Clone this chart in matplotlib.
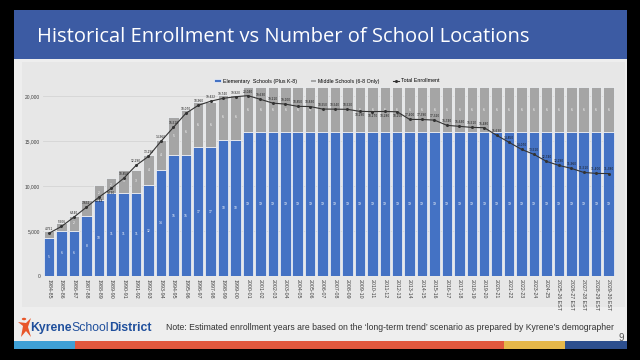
import matplotlib.pyplot as plt
from matplotlib.patches import Rectangle, Circle, Polygon

# school years on the x axis
years = ['1984-85', '1985-86', '1986-87', '1987-88', '1988-89', '1989-90', '1990-91', '1991-92',
         '1992-93', '1993-94', '1994-95', '1995-96', '1996-97', '1997-98', '1998-99', '1999-00',
         '2000-01', '2001-02', '2002-03', '2003-04', '2004-05', '2005-06', '2006-07', '2007-08',
         '2008-09', '2009-10', '2010-11', '2011-12', '2012-13', '2013-14', '2014-15', '2015-16',
         '2016-17', '2017-18', '2018-19', '2019-20', '2020-21', '2021-22', '2022-23', '2023-24',
         '2024-25', '2025-26 EST', '2026-27 EST', '2027-28 EST', '2028-29 EST', '2029-30 EST']

elementary = [5, 6, 6, 8, 10, 11, 11, 11, 12, 14, 16, 16, 17, 17, 18, 18,
              19, 19, 19, 19, 19, 19, 19, 19, 19, 19, 19, 19, 19, 19, 19,
              19, 19, 19, 19, 19, 19, 19, 19, 19, 19, 19, 19, 19, 19, 19]
middle = [1, 1, 2, 2, 2, 2, 3, 3, 4, 4, 5, 6, 6, 6, 6, 6,
          6, 6, 6, 6, 6, 6, 6, 6, 6, 6, 6, 6, 6, 6, 6,
          6, 6, 6, 6, 6, 6, 6, 6, 6, 6, 6, 6, 6, 6, 6]
enrollment = [4751, 5506, 6540, 7632, 8748, 9730, 10850, 12290, 13290, 14960, 16510, 18070,
              18960, 19422, 19740, 19920, 20040, 19630, 19210, 19100, 18850, 18830, 18550, 18540,
              18520, 18290, 18270, 18280, 18250, 17400, 17390, 17320, 16740, 16630, 16510, 16480,
              15630, 14850, 14070, 13510, 12740, 12290, 11960, 11510, 11400, 11380]

W, H = 640, 360
ENR_MAX = 21000
SCH_MAX = 25
fig = plt.figure(figsize=(6.4, 3.6), dpi=100)
fig.patch.set_facecolor('black')


def box(x0, y0, x1, y1, color):
    # rectangle in pixel coords measured from the top-left corner
    fig.add_artist(Rectangle((x0 / W, 1 - y1 / H), (x1 - x0) / W, (y1 - y0) / H,
                             transform=fig.transFigure, facecolor=color, edgecolor='none', zorder=0))


# slide frame
box(14, 10, 627, 349, '#eeeeee')
box(14, 10, 627, 59, '#3c5ba3')
box(22, 62, 625, 307, '#e7e7e7')
box(14, 341, 75, 349, '#3fa0d6')
box(75, 341, 504, 349, '#e2583e')
box(504, 341, 565, 349, '#e6b84a')
box(565, 341, 627, 349, '#2d4f8e')

fig.text(37 / W, 1 - 37 / H, 'Historical Enrollment vs Number of School Locations',
         family='Open Sans', fontsize=14.5, color='white', va='center', ha='left')

# chart
x = list(range(len(years)))
ax = fig.add_axes([42.8 / W, 1 - 276 / H, 572 / W, 189 / H])
ax.set_facecolor('none')
ax.set_xlim(-0.5, len(years) - 0.5)
ax.set_ylim(0, ENR_MAX)
ax.set_yticks([0, 5000, 10000, 15000, 20000])
ax.set_yticklabels(['0', '5,000', '10,000', '15,000', '20,000'], family='Liberation Sans',
                   fontsize=3.5, color='#404040')
ax.grid(axis='y', color='#d4d4d4', linewidth=0.6)
ax.set_axisbelow(True)
ax.set_xticks(x)
ax.set_xticklabels(years, rotation=-90, family='Liberation Sans', fontsize=3.8, color='#404040')
ax.tick_params(length=0, pad=2)
for s in ax.spines.values():
    s.set_visible(False)

axb = ax.twinx()
axb.set_ylim(0, SCH_MAX)
axb.set_axis_off()
b1 = axb.bar(x, elementary, width=0.84, color='#4472c4', edgecolor='#f4f6fa', linewidth=0.5,
             label='Elementary  Schools (Plus K-8)')
b2 = axb.bar(x, middle, bottom=elementary, width=0.84, color='#a5a5a5', edgecolor='#f4f6fa',
             linewidth=0.5, label='Middle Schools (6-8 Only)')
axb.bar_label(b1, label_type='center', fontsize=2.2, color='white')
axb.bar_label(b2, label_type='center', fontsize=2.2, color='white')

axl = ax.twinx()
axl.set_ylim(0, ENR_MAX)
axl.set_axis_off()
ln, = axl.plot(x, enrollment, color='#333333', linewidth=0.8, marker='o', markersize=1.2,
               label='Total Enrollment')
for xi, v, e, m in zip(x, enrollment, elementary, middle):
    # gray-segment label centre expressed on the enrollment scale
    c = (e + m / 2) * ENR_MAX / SCH_MAX
    below = c - 800 < v < c - 30
    axl.annotate(f'{v:,}', (xi, v), xytext=(0, -1.5 if below else 1.5),
                 textcoords='offset points', ha='center', va='top' if below else 'bottom',
                 fontsize=2.1, color='#1a1a1a')

fig.legend(handles=[b1, b2, ln], loc='center', bbox_to_anchor=(327 / W, 1 - 81 / H), ncol=3,
           frameon=False, prop={'family': 'Liberation Sans', 'size': 3.8}, handlelength=1.2,
           handleheight=0.6, columnspacing=2.5, handletextpad=0.4)

# footer
fig.add_artist(Circle((24 / W, 1 - 319 / H), 2.2 / W, transform=fig.transFigure,
                      facecolor='#e8562a', edgecolor='none'))
fig.add_artist(Polygon([(18 / W, 1 - 322 / H), (26 / W, 1 - 323 / H), (31 / W, 1 - 318 / H),
                        (28 / W, 1 - 327 / H), (31 / W, 1 - 337 / H), (26 / W, 1 - 331 / H),
                        (21 / W, 1 - 337 / H), (23 / W, 1 - 326 / H)],
                       transform=fig.transFigure, facecolor='#e8562a', edgecolor='none'))
t = fig.text(30 / W, 1 - 328 / H, 'Kyrene', family='Liberation Sans', fontsize=8.8,
             fontweight='bold', color='#1f4f9c', va='center')
fig.canvas.draw()
bb = t.get_window_extent()
t2 = fig.text(bb.x1 / W, 1 - 328 / H, 'School', family='Liberation Sans', fontsize=8.8,
              color='#1f4f9c', va='center')
bb = t2.get_window_extent()
fig.text(bb.x1 / W, 1 - 328 / H, 'District', family='Liberation Sans', fontsize=8.8,
         fontweight='bold', color='#1f4f9c', va='center')

fig.text(166 / W, 1 - 328 / H,
         'Note: Estimated enrollment years are based on the \u2018long-term trend\u2019 scenario '
         'as prepared by Kyrene\u2019s demographer',
         family='Liberation Sans', fontsize=6.2, color='#333333', va='center')
fig.text(621 / W, 1 - 338 / H, '9', family='Liberation Sans', fontsize=7, color='#555555',
         ha='center', va='center')

fig.savefig('out.png', dpi=100, facecolor=fig.get_facecolor())
